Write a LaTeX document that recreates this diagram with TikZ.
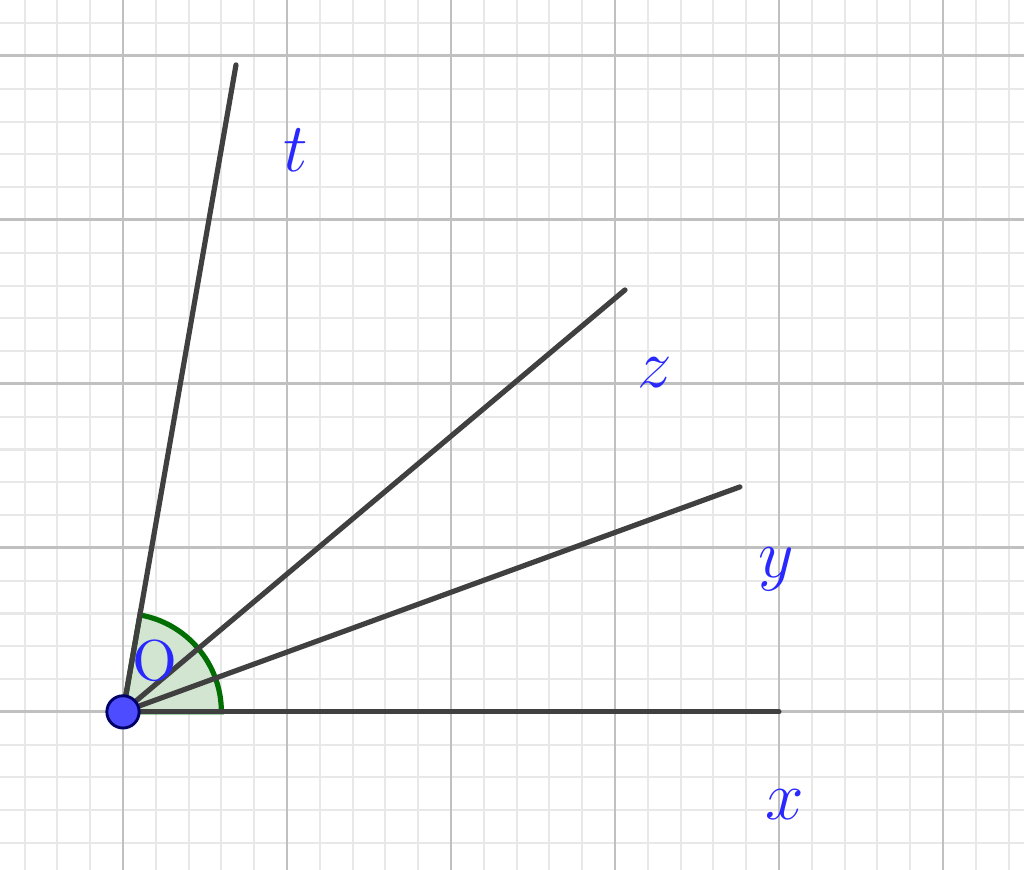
\documentclass[tikz,border=0pt]{standalone}
\usepackage{tikz}
\definecolor{minorgrid}{RGB}{232,232,232}
\definecolor{majorgrid}{RGB}{192,192,192}
\definecolor{raygray}{RGB}{64,64,64}
\definecolor{labelblue}{RGB}{40,40,255}
\definecolor{anglegreen}{RGB}{0,110,0}
\definecolor{pointblue}{RGB}{77,77,255}
\begin{document}
\begin{tikzpicture}[
    raystyle/.style={raygray, line width=0.9pt, line cap=round},
    raylabel/.style={text=labelblue, font=\fontsize{13}{15}\selectfont, inner sep=0pt}
  ]
        \clip (-0.75, -0.963) rectangle (5.494, 4.341);
        \useasboundingbox (-0.75, -0.963) rectangle (5.494, 4.341);

        \draw [minorgrid, line width=0.35pt, step=0.2] (-1, -1.2) grid (5.8, 4.6);
        \draw [majorgrid, line width=0.5pt, step=1] (-1, -1.2) grid (5.8, 4.6);

        \coordinate (O) at (0, 0);
        \coordinate (X) at (4, 0);
        \coordinate (Y) at (3.762, 1.372);
        \coordinate (Z) at (3.061, 2.573);
        \coordinate (T) at (0.689, 3.945);

        \filldraw [fill=anglegreen!18, draw=anglegreen, line width=0.9pt]
          (O) -- ++(0.6, 0) arc (0:80.09:0.6) -- cycle;

        \draw [raystyle] (O) to (X);
        \draw [raystyle] (O) to (Y);
        \draw [raystyle] (O) to (Z);
        \draw [raystyle] (O) to (T);

        \node [fill=pointblue, draw=blue!40!black, circle, inner sep=0pt, minimum size=5.6pt, line width=0.5pt] (Odot) at (O) {};
        \node [text=labelblue, font=\fontsize{10}{12}\selectfont, inner sep=0pt] (Olabel) at (0.195, 0.311) {O};

        \node [raylabel] (xlabel) at (4.037, -0.567) {$x$};
        \node [raylabel] (ylabel) at (3.982, 0.872) {$y$};
        \node [raylabel] (zlabel) at (3.244, 2.067) {$z$};
        \node [raylabel] (tlabel) at (1.055, 3.427) {$t$};
      \end{tikzpicture}
\end{document}
